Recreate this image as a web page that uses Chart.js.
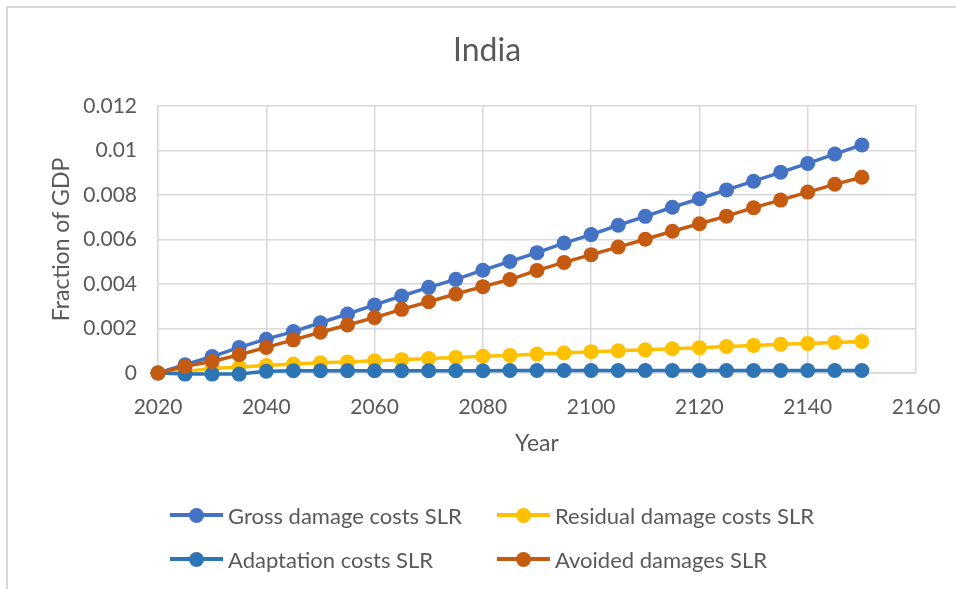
<!DOCTYPE html>
<html>
<head>
<meta charset="utf-8">
<title>India – sea level rise costs</title>
<script src="https://cdn.jsdelivr.net/npm/chart.js@4.4.0/dist/chart.umd.min.js"></script>
<style>
  html, body { margin: 0; padding: 0; background: #ffffff; }
  #wrap { position: relative; width: 956px; height: 589px; overflow: hidden; font-family: Lato, "Open Sans", sans-serif; }
  #frame { position: absolute; left: 6px; top: 6px; width: 1000px; height: 700px;
           border-left: 2px solid #d9d9d9; border-top: 2px solid #d9d9d9; box-sizing: border-box; }
  #chart { position: absolute; left: 0; top: 0; }
  .item { position: absolute; height: 26px; display: flex; align-items: center;
          color: #595959; font-size: 22px; white-space: nowrap; }
  .swatch { position: relative; width: 53px; height: 26px; margin-right: 5px; flex: none; }
  .swatch .ln { position: absolute; left: 0; right: 0; top: 50%; height: 3.5px; margin-top: -1.75px; }
  .swatch .dot { position: absolute; left: 50%; top: 50%; width: 15px; height: 15px;
                 margin: -7.5px 0 0 -7.5px; border-radius: 50%; }
</style>
</head>
<body>
<div id="wrap">
  <div id="frame"></div>
  <canvas id="chart" width="956" height="589"></canvas>
  <div id="legend"></div>
</div>
<script>
// Years (every 5 years) and fraction-of-GDP values per series
const years = [2020, 2025, 2030, 2035, 2040, 2045, 2050, 2055, 2060, 2065, 2070, 2075, 2080, 2085,
               2090, 2095, 2100, 2105, 2110, 2115, 2120, 2125, 2130, 2135, 2140, 2145, 2150];

const grossDamage = [0, 0.00037, 0.00074, 0.00115, 0.00152, 0.00186, 0.00226, 0.00265, 0.00306,
                     0.00346, 0.00385, 0.00421, 0.00462, 0.00501, 0.00541, 0.00584, 0.00622, 0.00664,
                     0.00704, 0.00745, 0.00783, 0.00823, 0.00862, 0.00902, 0.00942, 0.00984, 0.01025];

const residualDamage = [0, 0.00007, 0.0002, 0.00027, 0.00034, 0.0004, 0.00046, 0.0005, 0.00055,
                        0.0006, 0.00065, 0.0007, 0.00075, 0.00079, 0.00085, 0.0009, 0.00096, 0.001,
                        0.00104, 0.00109, 0.00114, 0.00119, 0.00124, 0.00129, 0.00133, 0.00137, 0.00142];

const adaptationCost = [0, -0.00005, -0.00005, -0.00005, 0.00008, 0.0001, 0.0001, 0.0001, 0.0001,
                        0.0001, 0.0001, 0.0001, 0.0001, 0.00011, 0.00011, 0.00011, 0.00011, 0.00011,
                        0.00011, 0.00011, 0.00011, 0.00011, 0.00011, 0.00011, 0.00011, 0.00011, 0.00011];

const avoidedDamage = [0, 0.0003, 0.00052, 0.00082, 0.00115, 0.00149, 0.00183, 0.00216, 0.00249,
                       0.00286, 0.0032, 0.00355, 0.00388, 0.0042, 0.00461, 0.00497, 0.00532, 0.00566,
                       0.00601, 0.00637, 0.00671, 0.00705, 0.00743, 0.00777, 0.00813, 0.00848, 0.0088];

const seriesNames = ['Gross damage costs SLR', 'Residual damage costs SLR',
                     'Adaptation costs SLR', 'Avoided damages SLR'];

const yTickLabels = ['0', '0.002', '0.004', '0.006', '0.008', '0.01', '0.012'];

const chartTitle = 'India';

// Styling
const seriesColors = ['#4472C4', '#FFC000', '#2E75B6', '#C55A11'];
const seriesOrder = [4, 3, 2, 1];          // avoided damages painted on top
const textColor = '#595959';
const gridColor = '#d9d9d9';
const fontFamily = 'Lato, "Open Sans", sans-serif';

const seriesValues = [grossDamage, residualDamage, adaptationCost, avoidedDamage];

const datasets = seriesValues.map((vals, k) => ({
  label: seriesNames[k],
  data: years.map((yr, i) => ({ x: yr, y: vals[i] })),
  borderColor: seriesColors[k],
  backgroundColor: seriesColors[k],
  pointBackgroundColor: seriesColors[k],
  pointBorderColor: seriesColors[k],
  borderWidth: 3.5,
  pointRadius: 7.5,
  pointHoverRadius: 7.5,
  pointBorderWidth: 0,
  tension: 0,
  clip: false,
  order: seriesOrder[k]
}));

// Chart title, centred over the whole chart frame
const frameTitle = {
  id: 'frameTitle',
  afterDraw(chart) {
    const ctx = chart.ctx;
    ctx.save();
    ctx.font = '400 32px ' + fontFamily;
    ctx.fillStyle = textColor;
    ctx.textAlign = 'center';
    ctx.textBaseline = 'middle';
    ctx.fillText(chartTitle, 487, 51);
    ctx.restore();
  }
};

function draw() {
  new Chart(document.getElementById('chart'), {
    type: 'line',
    data: { datasets },
    plugins: [frameTitle],
    options: {
      responsive: false,
      animation: false,
      events: [],
      layout: { padding: { left: 8, right: 40, top: 106, bottom: 116 } },
      plugins: {
        legend: { display: false },
        tooltip: { enabled: false },
        title: { display: false }
      },
      scales: {
        x: {
          type: 'linear',
          min: 2020,
          max: 2160,
          afterFit: s => { s.height = 100; s.paddingLeft = 0; s.paddingRight = 20; },
          ticks: {
            stepSize: 20,
            padding: 22,
            color: textColor,
            font: { family: fontFamily, size: 21 },
            callback: v => String(v),
            maxRotation: 0
          },
          grid: { color: gridColor, lineWidth: 1.5, drawTicks: false },
          border: { color: gridColor, width: 1.5 },
          title: {
            display: true,
            text: 'Year',
            color: textColor,
            font: { family: fontFamily, size: 23, lineHeight: 1.2 },
            padding: { top: 0, bottom: 16 }
          }
        },
        y: {
          min: 0,
          max: 0.012,
          afterFit: s => { s.width = 150; },
          ticks: {
            stepSize: 0.002,
            padding: 21,
            color: textColor,
            font: { family: fontFamily, size: 21 },
            callback: (v, i) => yTickLabels[i]
          },
          grid: { color: gridColor, lineWidth: 1.5, drawTicks: false },
          border: { color: gridColor, width: 1.5 },
          title: {
            display: true,
            text: 'Fraction of GDP',
            color: textColor,
            font: { family: fontFamily, size: 23, lineHeight: 1.2 },
            padding: { top: 40, bottom: 0 }
          }
        }
      }
    }
  });

  // Two-column legend below the plot
  const legendPos = [[170, 502], [497, 502], [170, 546], [497, 546]];
  const legend = document.getElementById('legend');
  seriesNames.forEach((name, k) => {
    const item = document.createElement('div');
    item.className = 'item';
    item.style.left = legendPos[k][0] + 'px';
    item.style.top = legendPos[k][1] + 'px';
    item.innerHTML = '<span class="swatch"><span class="ln" style="background:' + seriesColors[k] +
      '"></span><span class="dot" style="background:' + seriesColors[k] + '"></span></span>';
    const label = document.createElement('span');
    label.textContent = name;
    item.appendChild(label);
    legend.appendChild(item);
  });
}

if (document.fonts && document.fonts.load) {
  Promise.all([
    document.fonts.load('21px Lato'),
    document.fonts.load('32px Lato')
  ]).then(draw, draw);
} else {
  draw();
}
</script>
</body>
</html>
